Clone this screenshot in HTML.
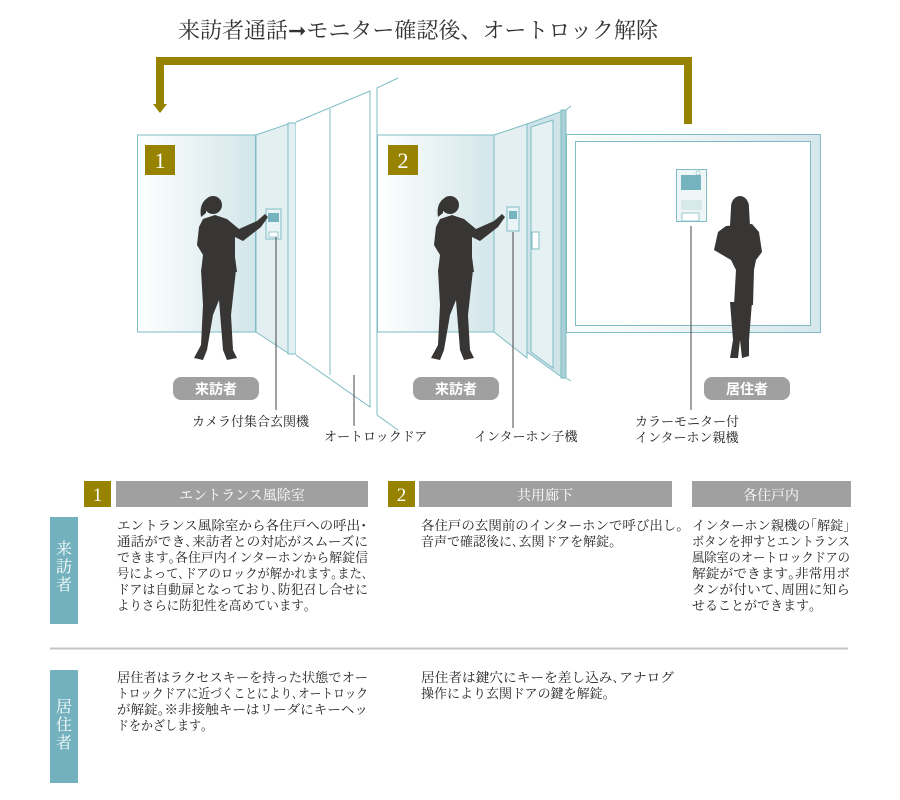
<!DOCTYPE html>
<html><head><meta charset="utf-8"><style>
html,body{margin:0;padding:0;background:#fff;}
svg{display:block;}
text{font-family:"Liberation Serif","Noto Serif CJK JP",serif;}
.s{font-family:"Liberation Sans","Noto Sans CJK JP",sans-serif;font-weight:bold;}
</style></head><body>
<svg width="900" height="800" viewBox="0 0 900 800" xmlns="http://www.w3.org/2000/svg">
<defs>
<linearGradient id="g1" x1="0" x2="1" y1="0" y2="0"><stop offset="0" stop-color="#ffffff"/><stop offset="1" stop-color="#d2e6ea"/></linearGradient>
<linearGradient id="g2" x1="0" x2="1" y1="0" y2="0"><stop offset="0" stop-color="#ffffff"/><stop offset="1" stop-color="#d6e7eb"/></linearGradient>
<g id="p">
<circle cx="0" cy="0" r="9" fill="#383634"/>
<path d="M-7,-6 Q-14,0 -12,12 L-7,8 Z" fill="#383634"/>
<path d="M-10,14 L2,10 L14,14 L26,24 L44,16 L52,9 L55,12 L48,22 L30,36 L22,32 L22,52 L24,67 L-12,67 L-10,50 L-16,40 L-14,22 Z" fill="#383634"/>
<path d="M-12,65 L23,65 L18,110 L20,145 L24,153 L14,155 L10,145 L6,95 L0,110 L-6,145 L-10,155 L-19,153 L-12,140 L-10,100 Z" fill="#383634"/>
</g>
</defs>
<text x="178" y="38" font-size="22" fill="#333" textLength="480" lengthAdjust="spacingAndGlyphs">来訪者通話➞モニター確認後、オートロック解除</text>
<path d="M160,106 L160,61 L688,61 L688,124" fill="none" stroke="#978300" stroke-width="8"/>
<path d="M153,104 L167,104 L160,113 Z" fill="#978300"/>

<rect x="137.5" y="135" width="118" height="197" fill="url(#g1)" stroke="#7fbcc6"/>
<polygon points="256,135 288,124 288,353 256,332" fill="#e3eff1" stroke="#7fbcc6"/>
<rect x="288" y="123" width="8" height="231" fill="#e3eff1" stroke="#7fbcc6"/>
<path d="M296,122 L370,91 L370,407 L296,355 M330,109 L330,375" fill="#fff" stroke="#7fbcc6"/>
<path d="M377,415 L377,88 L398,78 M377,415 L398,430" fill="none" stroke="#7fbcc6"/>
<rect x="266" y="209" width="15" height="30" fill="#eaf4f6" stroke="#7fbcc6"/>
<rect x="268" y="213" width="11" height="9" fill="#75b3bf"/>
<rect x="269" y="232" width="9" height="5" fill="#fff" stroke="#7fbcc6" stroke-width=".8"/>
<rect x="145" y="145" width="30" height="30" fill="#978300"/>
<text x="160" y="168" font-size="22" fill="#fff" text-anchor="middle">1</text>
<use href="#p" x="213" y="205"/>

<rect x="377.5" y="135" width="117" height="197" fill="url(#g1)" stroke="#7fbcc6"/>
<polygon points="494,135 527,124 527,358 494,332" fill="#e3eff1" stroke="#7fbcc6"/>
<polygon points="527,124 560,112 563,112 563,378 527,352" fill="#cfe4e8" stroke="#7fbcc6"/>
<polygon points="531,127 553,120 553,368 531,352" fill="#e6f1f3" stroke="#7fbcc6"/>
<rect x="561" y="110" width="5" height="268" fill="#a9d0d7" stroke="#7fbcc6"/>
<path d="M566,110 L571,106 M566,378 L571,381" stroke="#7fbcc6"/>
<rect x="532" y="232" width="7" height="17" fill="#fff" stroke="#7fbcc6"/>
<rect x="507" y="207" width="12" height="24" fill="#eaf4f6" stroke="#7fbcc6"/>
<rect x="509" y="211" width="8" height="8" fill="#75b3bf"/>
<rect x="388" y="145" width="30" height="30" fill="#978300"/>
<text x="403" y="168" font-size="22" fill="#fff" text-anchor="middle">2</text>
<use href="#p" x="450" y="205"/>

<rect x="566.5" y="134.5" width="254" height="198" fill="url(#g2)" stroke="#7fbcc6"/>
<rect x="575.5" y="141.5" width="235" height="184" fill="#fff" stroke="#7fbcc6"/>
<rect x="676.5" y="169.5" width="30" height="52" fill="#eef6f7" stroke="#7fbcc6"/>
<rect x="681" y="175" width="20" height="15" fill="#75b3bf"/>
<circle cx="698" cy="173" r="2" fill="#fff" stroke="#7fbcc6" stroke-width=".7"/>
<rect x="681" y="200" width="21" height="10" fill="#d8e9ec"/>
<rect x="682" y="213" width="17" height="8" fill="#fff" stroke="#7fbcc6" stroke-width=".8"/>
<g fill="#383634">
<ellipse cx="740" cy="207" rx="9" ry="11"/>
<path d="M731,208 L749,208 L750,226 L730,226 Z"/>
<path d="M726,226 L752,224 L759,232 L762,252 L756,260 L754,270 L753,305 L734,305 L736,270 L731,260 L714,250 L718,232 Z"/>
<path d="M730,302 L752,302 L749,340 L749,356 L742,358 L740,340 L738,358 L730,358 L733,340 Z"/>
</g>

<g font-size="14" fill="#fff" text-anchor="middle">
<rect x="173" y="377" width="86" height="23" rx="8" fill="#a0a0a0"/>
<text x="216" y="394" class="s">来訪者</text>
<rect x="413" y="377" width="86" height="23" rx="8" fill="#a0a0a0"/>
<text x="456" y="394" class="s">来訪者</text>
<rect x="704" y="377" width="86" height="23" rx="8" fill="#a0a0a0"/>
<text x="747" y="394" class="s">居住者</text>
</g>
<g stroke="#444" stroke-width="1">
<line x1="276" y1="237" x2="276" y2="410"/>
<line x1="354" y1="375" x2="354" y2="426"/>
<line x1="513" y1="232" x2="513" y2="428"/>
<line x1="691" y1="226" x2="691" y2="410"/>
</g>
<g font-size="13" fill="#222">
<text x="192" y="426">カメラ付集合玄関機</text>
<text x="324" y="441">オートロックドア</text>
<text x="474" y="441">インターホン子機</text>
<text x="635" y="426">カラーモニター付</text>
<text x="635" y="442">インターホン親機</text>
</g>

<rect x="84" y="481" width="27" height="26" fill="#978300"/>
<text x="97.5" y="501" font-size="19" fill="#fff" text-anchor="middle">1</text>
<rect x="116" y="481" width="252" height="26" fill="#a0a0a0"/>
<text x="242" y="500" font-size="14" fill="#fff" text-anchor="middle">エントランス風除室</text>
<rect x="388" y="481" width="27" height="26" fill="#978300"/>
<text x="401.5" y="501" font-size="19" fill="#fff" text-anchor="middle">2</text>
<rect x="419" y="481" width="253" height="26" fill="#a0a0a0"/>
<text x="545" y="500" font-size="14" fill="#fff" text-anchor="middle">共用廊下</text>
<rect x="692" y="481" width="159" height="26" fill="#a0a0a0"/>
<text x="771" y="500" font-size="14" fill="#fff" text-anchor="middle">各住戸内</text>

<rect x="50" y="517" width="28" height="107" fill="#72b1bd"/>
<g font-size="16" fill="#fff" text-anchor="middle">
<text x="64" y="554">来</text><text x="64" y="572">訪</text><text x="64" y="590">者</text>
</g>
<rect x="50" y="670" width="28" height="113" fill="#72b1bd"/>
<g font-size="16" fill="#fff" text-anchor="middle">
<text x="64" y="712">居</text><text x="64" y="730">住</text><text x="64" y="748">者</text>
</g>
<line x1="50" y1="648.5" x2="848" y2="648.5" stroke="#c4c4c4" stroke-width="2"/>

<g font-size="13" fill="#222">
<text x="117" y="530" textLength="250" lengthAdjust="spacingAndGlyphs">エントランス風除室から各住戸への呼出･</text>
<text x="117" y="546" textLength="251" lengthAdjust="spacingAndGlyphs">通話ができ､来訪者との対応がスムーズに</text>
<text x="117" y="562" textLength="251" lengthAdjust="spacingAndGlyphs">できます｡各住戸内インターホンから解錠信</text>
<text x="117" y="578" textLength="251" lengthAdjust="spacingAndGlyphs">号によって､ドアのロックが解かれます｡また､</text>
<text x="117" y="594" textLength="251" lengthAdjust="spacingAndGlyphs">ドアは自動扉となっており､防犯召し合せに</text>
<text x="117" y="610" textLength="193" lengthAdjust="spacingAndGlyphs">よりさらに防犯性を高めています｡</text>

<text x="421" y="530" textLength="262" lengthAdjust="spacingAndGlyphs">各住戸の玄関前のインターホンで呼び出し｡</text>
<text x="421" y="546">音声で確認後に､玄関ドアを解錠｡</text>

<text x="692" y="530" textLength="158" lengthAdjust="spacingAndGlyphs">インターホン親機の｢解錠｣</text>
<text x="692" y="546" textLength="158" lengthAdjust="spacingAndGlyphs">ボタンを押すとエントランス</text>
<text x="692" y="562" textLength="158" lengthAdjust="spacingAndGlyphs">風除室のオートロックドアの</text>
<text x="692" y="578" textLength="158" lengthAdjust="spacingAndGlyphs">解錠ができます｡非常用ボ</text>
<text x="692" y="594" textLength="158" lengthAdjust="spacingAndGlyphs">タンが付いて､周囲に知ら</text>
<text x="692" y="610">せることができます｡</text>

<text x="117" y="682" textLength="251" lengthAdjust="spacingAndGlyphs">居住者はラクセスキーを持った状態でオー</text>
<text x="117" y="698" textLength="251" lengthAdjust="spacingAndGlyphs">トロックドアに近づくことにより､オートロック</text>
<text x="117" y="714" textLength="251" lengthAdjust="spacingAndGlyphs">が解錠｡※非接触キーはリーダにキーヘッ</text>
<text x="117" y="730" textLength="90" lengthAdjust="spacingAndGlyphs">ドをかざします｡</text>

<text x="421" y="682" textLength="253" lengthAdjust="spacingAndGlyphs">居住者は鍵穴にキーを差し込み､アナログ</text>
<text x="421" y="698">操作により玄関ドアの鍵を解錠｡</text>
</g>
</svg>
</body></html>
